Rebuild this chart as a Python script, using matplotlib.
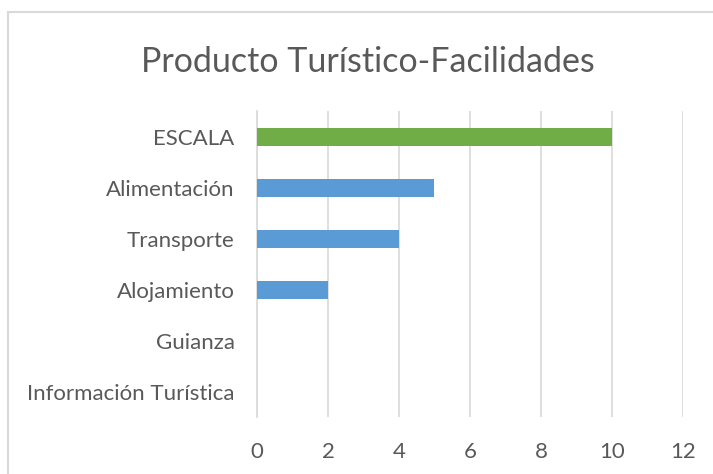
import matplotlib as mpl
mpl.use("Agg")
import matplotlib.pyplot as plt
from matplotlib.patches import Rectangle

plt.rcParams["font.family"] = ["Lato", "DejaVu Sans"]

# data (top to bottom)
categorias = ["ESCALA", "Alimentación", "Transporte", "Alojamiento",
              "Guianza", "Información Turística"]
valores = [10, 5, 4, 2, 0, 0]
colores = ["#70ad47", "#5b9bd5", "#5b9bd5", "#5b9bd5", "#5b9bd5", "#5b9bd5"]
ticks_x = [0, 2, 4, 6, 8, 10, 12]

texto = "#595959"
gris = "#d9d9d9"

fig = plt.figure(figsize=(7.13, 4.74), dpi=100)
ax = fig.add_axes([0.3604, 0.1192, 0.5975, 0.6456])

pos = list(range(len(categorias)))
ax.barh(pos, valores, height=0.35, color=colores, zorder=3)

ax.set_ylim(len(categorias) - 0.5, -0.5)
ax.set_xlim(0, 12)
ax.set_xticks(ticks_x)
ax.set_yticks(pos)
ax.set_yticklabels(categorias)
ax.grid(axis="x", color=gris, linewidth=1.2, zorder=0)
ax.tick_params(axis="both", length=0, labelsize=16, colors=texto)
ax.tick_params(axis="x", pad=18)
ax.tick_params(axis="y", pad=16)
for s in ["top", "right", "bottom"]:
    ax.spines[s].set_visible(False)
ax.spines["left"].set_color(gris)
ax.spines["left"].set_linewidth(1.2)

fig.text(0.516, 0.87, "Producto Turístico-Facilidades", ha="center",
         va="center", fontsize=24.5, color=texto)

# chart frame
fig.patches.append(Rectangle((8 / 713, -0.05), 1.2, 1 - 12 / 474 + 0.05,
                             transform=fig.transFigure, fill=False,
                             edgecolor=gris, linewidth=1.5))

plt.savefig("out.png", dpi=100)
